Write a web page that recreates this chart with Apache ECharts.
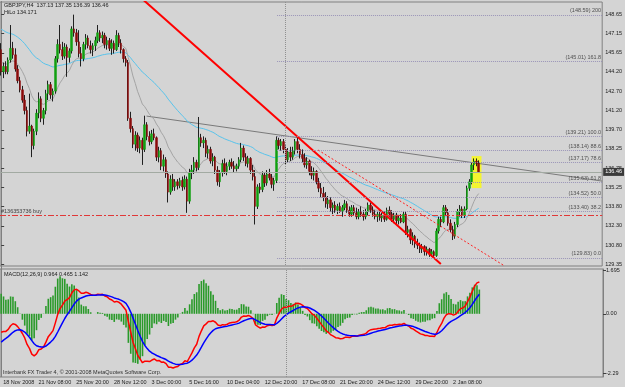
<!DOCTYPE html>
<html>
<head>
<meta charset="utf-8">
<script src="https://cdn.jsdelivr.net/npm/echarts@6/dist/echarts.min.js"></script>
<style>
html, body { margin: 0; padding: 0; background: #d4d4d4; }
#main { width: 625px; height: 387px; }
</style>
</head>
<body>
<div id="main"></div>
<script>
// GBPJPY H4, one row per bar: [open, high, low, close]
var candles = [
  [145.9,146.4,143.9,144.2],[144.2,144.9,143.7,144.6],[144.6,145.0,144.0,144.2],[144.2,145.3,144.0,145.1],
  [145.1,147.8,144.9,146.0],[146.0,146.5,145.2,145.5],[145.5,146.0,144.2,144.4],[144.4,144.7,143.3,143.5],
  [143.5,143.8,142.6,142.8],[142.8,143.1,141.8,142.0],[142.0,142.4,140.9,141.2],[141.2,141.5,139.2,139.6],
  [139.6,142.5,139.4,140.0],[140.0,140.1,137.6,138.5],[138.5,139.8,138.2,139.6],[139.6,141.3,139.3,141.0],
  [141.0,142.6,140.6,142.1],[142.1,142.3,140.3,140.6],[140.6,141.4,140.1,141.2],[141.2,142.8,140.9,142.5],
  [142.5,143.5,142.0,143.2],[143.2,143.4,142.1,142.4],[142.4,142.9,141.9,142.7],[142.7,145.4,142.5,145.2],
  [145.2,146.7,144.9,146.3],[146.3,147.8,145.6,145.9],[145.9,146.5,145.1,145.4],[145.4,146.4,145.2,146.1],
  [146.1,146.3,143.8,145.3],[145.3,146.0,144.9,145.8],[145.8,147.7,145.6,147.5],[147.5,148.6,146.9,147.2],
  [147.2,147.5,146.2,146.5],[146.5,147.4,145.3,145.6],[145.6,146.1,144.6,145.2],[145.2,146.5,145.0,146.3],
  [146.3,147.1,145.9,146.8],[146.8,147.0,146.0,146.2],[146.2,146.6,145.6,145.9],[145.9,146.4,145.4,146.2],
  [146.2,146.9,145.8,146.6],[146.6,147.8,146.4,147.2],[147.2,147.4,146.5,146.8],[146.8,147.3,146.4,147.0],
  [147.0,147.2,146.0,146.3],[146.3,146.9,145.9,146.6],[146.6,146.8,145.8,146.0],[146.0,146.7,145.5,146.4],
  [146.4,146.6,145.6,145.9],[145.9,147.4,145.8,147.0],[147.0,147.2,146.1,146.4],[146.4,146.7,145.6,145.9],
  [145.9,146.0,144.9,145.2],[145.2,145.4,144.6,144.9],[144.9,145.1,140.4,140.6],[140.6,141.1,139.5,139.8],
  [139.8,140.0,138.3,138.6],[138.6,139.6,138.1,139.3],[139.3,139.5,138.0,138.3],[138.3,139.2,137.9,138.9],
  [138.9,139.1,137.0,138.2],[138.2,140.8,138.0,140.1],[140.1,140.3,138.9,139.2],[139.2,139.6,138.5,138.8],
  [138.8,139.7,138.6,139.4],[139.4,139.8,138.9,139.1],[139.1,139.2,137.3,137.6],[137.6,138.4,137.2,138.1],
  [138.1,138.3,136.6,136.9],[136.9,137.8,136.5,137.4],[137.4,137.6,136.0,136.3],[136.3,136.5,134.1,134.9],
  [134.9,136.2,134.7,135.9],[135.9,136.3,135.0,135.3],[135.3,135.9,135.0,135.7],[135.7,135.9,135.1,135.4],
  [135.4,136.0,135.2,135.8],[135.8,136.1,135.0,135.3],[135.3,136.2,135.1,135.9],[135.9,136.1,133.3,134.2],
  [134.2,136.7,134.0,136.4],[136.4,137.0,135.9,136.6],[136.6,137.6,136.3,137.2],[137.2,137.4,136.5,136.8],
  [136.8,140.7,136.6,139.1],[139.1,139.4,138.4,138.7],[138.7,139.2,138.3,138.9],[138.9,139.1,137.6,137.9],
  [137.9,138.5,137.5,138.2],[138.2,138.4,137.1,137.3],[137.3,137.9,136.9,137.6],[137.6,137.7,136.3,136.6],
  [136.6,136.9,135.4,135.7],[135.7,136.6,135.3,136.4],[136.4,137.4,136.1,137.1],[137.1,137.5,136.3,136.5],
  [136.5,137.2,136.2,136.9],[136.9,137.4,136.6,137.2],[137.2,137.5,136.7,136.9],[136.9,137.3,136.4,136.7],
  [136.7,137.1,136.5,136.9],[136.9,137.6,136.7,137.4],[137.4,138.7,137.2,138.3],[138.3,138.5,137.3,137.6],
  [137.6,137.9,136.9,137.1],[137.1,137.7,136.8,137.5],[137.5,137.6,136.3,136.6],[136.6,137.0,135.8,136.1],
  [136.1,136.6,132.4,133.8],[133.8,135.5,133.6,135.3],[135.3,135.6,134.8,135.1],[135.1,136.5,134.9,136.2],
  [136.2,136.4,135.3,135.6],[135.6,136.6,135.4,136.3],[136.3,136.7,135.8,136.0],[136.0,136.3,135.2,135.5],
  [135.5,136.0,135.0,135.8],[135.8,139.2,135.6,138.9],[138.9,139.1,138.2,138.5],[138.5,139.0,138.1,138.8],
  [138.8,139.0,137.9,138.2],[138.2,138.5,137.0,137.4],[137.4,138.3,137.2,138.0],[138.0,138.4,137.3,137.6],
  [137.6,138.4,137.4,138.1],[138.1,139.0,137.8,138.8],[138.8,139.1,137.9,138.2],[138.2,138.6,137.5,137.8],
  [137.8,138.2,137.2,137.5],[137.5,137.9,136.8,137.0],[137.0,137.6,136.7,137.3],[137.3,137.4,136.2,136.5],
  [136.5,136.9,135.9,136.2],[136.2,136.8,135.8,136.5],[136.5,136.6,135.5,135.7],[135.7,136.0,134.9,135.2],
  [135.2,135.6,134.5,134.8],[134.8,135.3,134.2,134.5],[134.5,134.9,133.7,134.0],[134.0,134.6,133.6,134.3],
  [134.3,134.5,133.4,133.7],[133.7,134.1,133.2,133.9],[133.9,134.2,133.3,133.5],[133.5,134.0,133.2,133.8],
  [133.8,134.1,133.3,133.4],[133.4,133.9,133.0,133.7],[133.7,134.3,133.5,134.0],[134.0,134.2,133.3,133.5],
  [133.5,133.8,133.0,133.2],[133.2,133.9,133.0,133.7],[133.7,133.9,133.1,133.3],[133.3,133.7,132.8,133.0],
  [133.0,133.6,132.8,133.4],[133.4,133.8,133.0,133.2],[133.2,133.5,132.7,133.0],[133.0,133.6,132.8,133.4],
  [133.4,134.1,133.1,133.9],[133.9,134.1,133.3,133.5],[133.5,133.8,133.0,133.2],[133.2,133.5,132.8,133.0],
  [133.0,133.4,132.6,133.2],[133.2,133.5,132.7,132.9],[132.9,133.3,132.6,133.1],[133.1,133.4,132.6,132.8],
  [132.8,133.7,132.7,133.5],[133.5,133.8,133.0,133.2],[133.2,133.5,132.6,132.8],[132.8,133.3,132.5,133.1],
  [133.1,133.3,132.4,132.7],[132.7,133.1,132.4,132.9],[132.9,133.2,132.5,132.6],[132.6,133.4,132.5,133.2],
  [133.2,133.4,131.6,131.8],[131.8,132.3,131.4,132.0],[132.0,132.1,130.9,131.2],[131.2,131.8,130.8,131.5],
  [131.5,131.6,130.6,130.9],[130.9,131.3,130.5,130.8],[130.8,131.0,130.2,130.5],[130.5,130.9,130.2,130.7],
  [130.7,130.8,130.0,130.3],[130.3,130.7,130.0,130.5],[130.5,130.6,129.9,130.1],[130.1,130.5,129.9,130.3],
  [130.3,130.4,129.83,130.0],[130.0,132.1,129.9,131.9],[131.9,133.0,131.7,132.8],[132.8,133.0,132.2,132.6],
  [132.6,133.9,132.5,133.7],[133.7,133.9,133.1,133.3],[133.3,133.6,132.3,132.5],[132.5,132.8,131.8,132.0],
  [132.0,132.3,131.2,131.5],[131.5,132.6,131.3,132.4],[132.4,133.6,132.2,133.4],[133.4,133.9,133.0,133.6],
  [133.6,133.8,132.9,133.1],[133.1,133.8,132.9,133.6],[133.6,135.4,133.5,135.2],[135.2,135.9,135.0,135.7],
  [135.7,137.2,135.5,137.0],[137.0,137.5,136.6,137.3],[137.3,137.5,136.9,137.13],[137.13,137.35,136.39,136.46]
];

var barSlots = 256;   // visible bar slots on the time scale
var timeLabels = ['18 Nov 2008', '21 Nov 08:00', '25 Nov 20:00', '28 Nov 12:00', '3 Dec 00:00', '5 Dec 16:00',
  '10 Dec 04:00', '12 Dec 20:00', '17 Dec 08:00', '21 Dec 20:00', '24 Dec 12:00', '29 Dec 20:00', '2 Jan 08:00'];
var timeLabelBars = [0, 15, 31, 47, 63, 79, 95, 111, 127, 143, 159, 175, 191];

var priceTicks = [148.65, 147.15, 145.65, 144.20, 142.70, 141.20, 139.70, 138.25, 136.75, 135.25, 133.80, 132.30, 130.80, 129.35];
var macdTicks = [1.695, 0, -2.29];
var macdTickLabels = ['1.695', '0.00', '-2.29'];

// fibonacci retracement drawn from the 129.83 low to the 139.21 high
var fibLevels = ['0.0', '38.2', '50.0', '61.8', '78.6', '88.6', '100.0', '161.8', '200'];
var fibPrices = [129.83, 133.40, 134.52, 135.63, 137.17, 138.14, 139.21, 145.01, 148.59];
var fibStartBar = 117.3;

// chart objects: [bar, price]
var grayTrend = [[61.8, 140.77], [255.5, 135.75]];
var redTrend = [[60.5, 149.73], [186.9, 129.35]];
var redRay = [[134.7, 138.15], [214.0, 129.20]];
var markBox = [[200.0, 137.68], [204.2, 135.21]];
var separatorBar = 120.7;
var bidPrice = 136.46;
var orderPrice = 133.13;
var orderText = '#136353736 buy';

// indicator start values: [ma slow, ma fast, ema12, ema26, signal]
var indicatorStart = [147.6, 145.0, 145.0, 145.7, -1.2];

var closes = candles.map(function (r) { return r[3]; });

function ema(values, period, seed) {
  var k = 2 / (period + 1), prev = seed;
  return values.map(function (v) { prev = prev + k * (v - prev); return +prev.toFixed(3); });
}

var maSlow = ema(closes, 55, indicatorStart[0]);
var maFast = ema(closes, 15, indicatorStart[1]);
var ema12 = ema(closes, 12, indicatorStart[2]);
var ema26 = ema(closes, 26, indicatorStart[3]);
var macdMain = ema12.map(function (v, i) { return +(v - ema26[i]).toFixed(3); });
var macdSignal = ema(macdMain, 9, indicatorStart[4]);
var macdHist = macdMain.map(function (v, i) { return +(2 * (v - macdSignal[i])).toFixed(3); });

var wicks = candles.map(function (r) { return [r[0], r[3], r[2], r[1]]; });
var bodies = candles.map(function (r) { return [r[0], r[3], Math.min(r[0], r[3]), Math.max(r[0], r[3])]; });

var categories = [];
var labelByBar = {};
for (var i = 0; i < barSlots; i++) categories.push(String(i));
timeLabelBars.forEach(function (b, j) { labelByBar[b] = timeLabels[j]; });
function isLabelBar(idx) { return labelByBar[idx] !== undefined; }

var font = 'Liberation Sans';
var small = 5.5;

var fibLines = fibPrices.map(function (p, j) {
  return [
    { coord: [fibStartBar, p], label: { formatter: '(' + p.toFixed(2) + ') ' + fibLevels[j] } },
    { coord: [barSlots - 0.5, p] }
  ];
});

var chartDom = document.getElementById('main');
var myChart = echarts.init(chartDom);
var option;

option = {
  animation: false,
  backgroundColor: '#d4d4d4',
  textStyle: { fontFamily: font },
  grid: [
    { left: -1, right: 22, top: 2, height: 264, show: true, borderColor: '#808080', borderWidth: 1 },
    { left: -1, right: 22, top: 269, height: 108, show: true, borderColor: '#808080', borderWidth: 1 }
  ],
  xAxis: [
    { type: 'category', gridIndex: 0, data: categories, show: false },
    {
      type: 'category', gridIndex: 1, data: categories,
      axisLine: { show: false },
      axisTick: { interval: isLabelBar, alignWithLabel: true, length: 5, lineStyle: { color: '#404040' } },
      axisLabel: {
        interval: isLabelBar, align: 'left', margin: 2, padding: [0, 0, 0, 2],
        fontSize: small, color: '#202020', fontFamily: font,
        formatter: function (v, idx) { return labelByBar[idx] || ''; }
      }
    },
    { type: 'value', gridIndex: 0, min: -0.5, max: barSlots - 0.5, show: false }
  ],
  yAxis: [
    {
      type: 'value', gridIndex: 0, position: 'right', min: 129.196, max: 149.577, scale: true,
      splitLine: { show: false },
      axisLine: { show: true, lineStyle: { color: '#808080' } },
      axisTick: { show: true, length: 3, customValues: priceTicks, lineStyle: { color: '#404040' } },
      axisLabel: {
        customValues: priceTicks, margin: 3, fontSize: small, color: '#202020', fontFamily: font,
        formatter: function (v) { return v.toFixed(2); }
      }
    },
    {
      type: 'value', gridIndex: 1, position: 'right', min: -2.445, max: 1.734,
      splitLine: { show: false },
      axisLine: { show: true, lineStyle: { color: '#808080' } },
      axisTick: { show: true, length: 3, customValues: macdTicks, lineStyle: { color: '#404040' } },
      axisLabel: {
        customValues: macdTicks, margin: 3, fontSize: small, color: '#202020', fontFamily: font,
        formatter: function (v) { var j = macdTicks.indexOf(v); return j >= 0 ? macdTickLabels[j] : ''; }
      }
    }
  ],
  graphic: [
    { type: 'line', shape: { x1: 1.5, y1: 1, x2: 1.5, y2: 377 }, style: { stroke: '#808080', lineWidth: 1 } },
    { type: 'text', left: 4, top: 2, style: { text: 'GBPJPY,H4  137.13 137.35 136.39 136.46', font: small + 'px "' + font + '"', fill: '#202020' } },
    { type: 'text', left: 4, top: 9, style: { text: 'HiLo 134.171', font: small + 'px "' + font + '"', fill: '#202020' } },
    { type: 'text', left: 4, top: 271, style: { text: 'MACD(12,26,9) 0.964 0.465 1.142', font: small + 'px "' + font + '"', fill: '#202020' } },
    { type: 'text', left: 3, top: 369, style: { text: 'Interbank FX Trader 4, \u00a9 2001-2008 MetaQuotes Software Corp.', font: small + 'px "' + font + '"', fill: '#303030' } }
  ],
  series: [
    {
      name: 'objects', type: 'line', xAxisIndex: 2, yAxisIndex: 0, z: 1,
      data: grayTrend, symbol: 'none', lineStyle: { color: '#7a7a7a', width: 1 },
      markArea: {
        silent: true, itemStyle: { color: '#f4f430' },
        data: [[{ coord: markBox[0] }, { coord: markBox[1] }]]
      },
      markLine: {
        silent: true, symbol: 'none',
        lineStyle: { color: '#9a94b8', type: 'dotted', width: 1 },
        label: { position: 'insideEndTop', distance: 1, fontSize: small, color: '#505050', fontFamily: font },
        data: fibLines.concat([
          [{ coord: [separatorBar, 149.577], lineStyle: { color: '#909090', type: 'dotted' }, label: { show: false } },
           { coord: [separatorBar, 129.196] }]
        ])
      }
    },
    {
      name: 'red trend', type: 'line', xAxisIndex: 2, yAxisIndex: 0, z: 4,
      data: redTrend, symbol: 'none', lineStyle: { color: '#ff0000', width: 2 }
    },
    {
      name: 'red ray', type: 'line', xAxisIndex: 2, yAxisIndex: 0, z: 4,
      data: redRay, symbol: 'none', lineStyle: { color: '#ff2020', width: 1, type: [2, 2] }
    },
    {
      name: 'MA slow', type: 'line', xAxisIndex: 0, yAxisIndex: 0, z: 2,
      data: maSlow, symbol: 'none', lineStyle: { color: '#58c4ec', width: 1 }
    },
    {
      name: 'MA fast', type: 'line', xAxisIndex: 0, yAxisIndex: 0, z: 2,
      data: maFast, symbol: 'none', lineStyle: { color: '#a4a4a4', width: 1 }
    },
    {
      name: 'wicks', type: 'candlestick', xAxisIndex: 0, yAxisIndex: 0, z: 3,
      data: wicks, barWidth: 1,
      itemStyle: { color: '#202020', color0: '#202020', borderColor: '#202020', borderColor0: '#202020', borderWidth: 1 },
      markLine: {
        silent: true, symbol: 'none',
        data: [
          {
            yAxis: bidPrice, lineStyle: { color: '#a2aaa2', type: 'solid', width: 1 },
            label: { position: 'end', distance: 1, formatter: bidPrice.toFixed(2), fontSize: small, color: '#ffffff',
              backgroundColor: '#3a3a3a', padding: [1, 2], fontFamily: font }
          },
          {
            yAxis: orderPrice, lineStyle: { color: '#e03838', type: [6, 2, 2, 2], width: 1 },
            label: { position: 'insideStartTop', distance: 1, formatter: orderText, fontSize: small, color: '#404040', fontFamily: font }
          }
        ]
      }
    },
    {
      name: 'bodies', type: 'candlestick', xAxisIndex: 0, yAxisIndex: 0, z: 3,
      data: bodies, barWidth: 2,
      itemStyle: { color: '#10a010', color0: '#8a0a0a', borderColor: '#10a010', borderColor0: '#8a0a0a', borderWidth: 0.5 }
    },
    {
      name: 'MACD hist', type: 'bar', xAxisIndex: 1, yAxisIndex: 1,
      data: macdHist, barWidth: 1.6, itemStyle: { color: '#2a9a2a' },
      markLine: {
        silent: true, symbol: 'none', label: { show: false },
        lineStyle: { color: '#909090', type: 'dotted', width: 1 },
        data: [{ xAxis: 121 }]
      }
    },
    {
      name: 'MACD', type: 'line', xAxisIndex: 1, yAxisIndex: 1,
      data: macdMain, symbol: 'none', lineStyle: { color: '#ff0000', width: 1.5 }
    },
    {
      name: 'Signal', type: 'line', xAxisIndex: 1, yAxisIndex: 1,
      data: macdSignal, symbol: 'none', lineStyle: { color: '#0000ff', width: 1.5 }
    }
  ]
};

option && myChart.setOption(option);
</script>
</body>
</html>
